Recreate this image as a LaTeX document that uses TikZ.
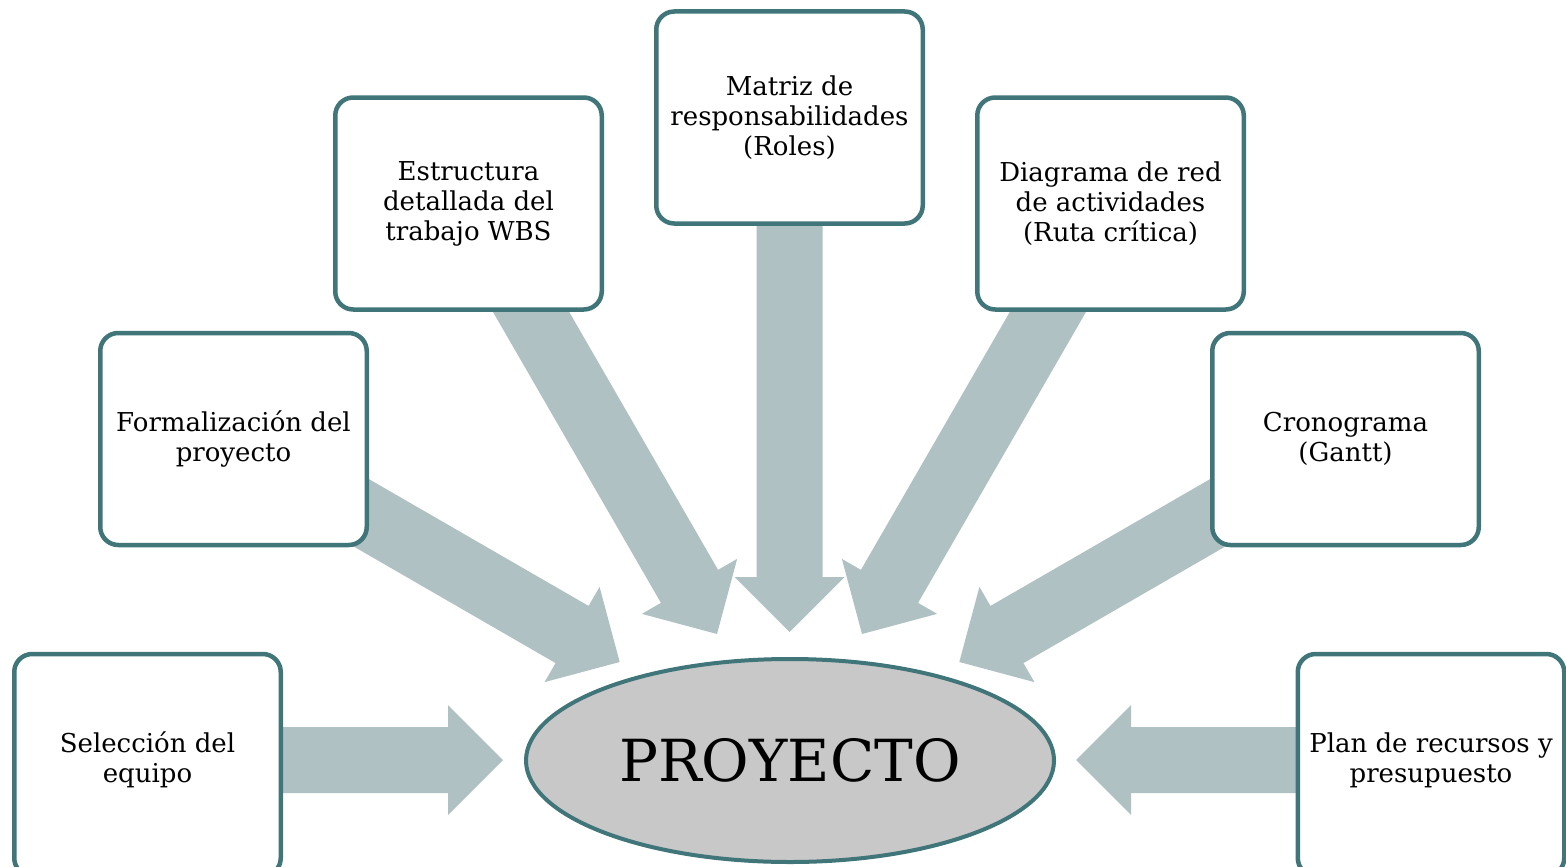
\documentclass[tikz,border=0pt]{standalone}
\usepackage{fontspec}
\setmainfont{DejaVu Serif}
\usetikzlibrary{calc,shapes.geometric}
\pgfdeclarelayer{background}
\pgfsetlayers{background,main}
\definecolor{bordercol}{HTML}{40757A}
\definecolor{arrowcol}{HTML}{B0C1C3}
\definecolor{ellcol}{HTML}{C8C8C8}
\newcommand{\blockarr}[2]{%
  \coordinate (ab) at ($(#2)!55pt!(#1.center)$);
  \fill[arrowfill] ($(#1.center)!33pt!90:(#2)$) -- ($(ab)!33pt!90:(#2)$) -- ($(ab)!55pt!90:(#2)$) -- (#2) -- ($(ab)!55pt!-90:(#2)$) -- ($(ab)!33pt!-90:(#2)$) -- ($(#1.center)!33pt!-90:(#2)$) -- cycle;}
\begin{document}
\begin{tikzpicture}[x=1pt,y=-1pt,
  box/.style={draw=bordercol, line width=4.5pt, rounded corners=18pt, fill=white,
    minimum width=266.5pt, minimum height=212pt, align=center, inner sep=0pt,
    font=\fontsize{26}{30}\selectfont},
  lowbox/.style={box, minimum height=222pt},
  arrowfill/.style={fill=arrowcol}]
\useasboundingbox (0,0) rectangle (1566,867);
\node[lowbox] (sel) at (147.5,765) {};
\node[font=\fontsize{26}{30}\selectfont, align=center, inner sep=0pt] (seltext) at (147.5,760) {Selección del\\equipo};
\node[box] (form) at (233.5,439) {Formalización del\\proyecto};
\node[box] (wbs) at (468.5,203.5) {Estructura\\detallada del\\trabajo WBS};
\node[box] (mat) at (789.5,117.5) {Matriz de\\responsabilidades\\(Roles)};
\node[box] (red) at (1110.5,203.5) {Diagrama de red\\de actividades\\(Ruta crítica)};
\node[box] (cro) at (1345.5,439) {Cronograma\\(Gantt)};
\node[lowbox] (plan) at (1431,765) {};
\node[font=\fontsize{26}{30}\selectfont, align=center, inner sep=0pt] (plantext) at (1431,760) {Plan de recursos y\\presupuesto};
\node[ellipse, draw=bordercol, line width=4pt, fill=ellcol, minimum width=528pt,
  minimum height=203pt, inner sep=0pt, font=\fontsize{58}{60}\selectfont] (proj) at (790,760.5) {PROYECTO};
\coordinate (tsel) at (503,760);
\coordinate (tform) at (619.7,662);
\coordinate (twbs) at (717,634);
\coordinate (tmat) at (789.5,632);
\coordinate (tred) at (862,634);
\coordinate (tcro) at (959.3,662);
\coordinate (tplan) at (1076,760);
\begin{pgfonlayer}{background}
\blockarr{seltext}{tsel}
\blockarr{form}{tform}
\blockarr{wbs}{twbs}
\blockarr{mat}{tmat}
\blockarr{red}{tred}
\blockarr{cro}{tcro}
\blockarr{plantext}{tplan}
\end{pgfonlayer}
\end{tikzpicture}
\end{document}
